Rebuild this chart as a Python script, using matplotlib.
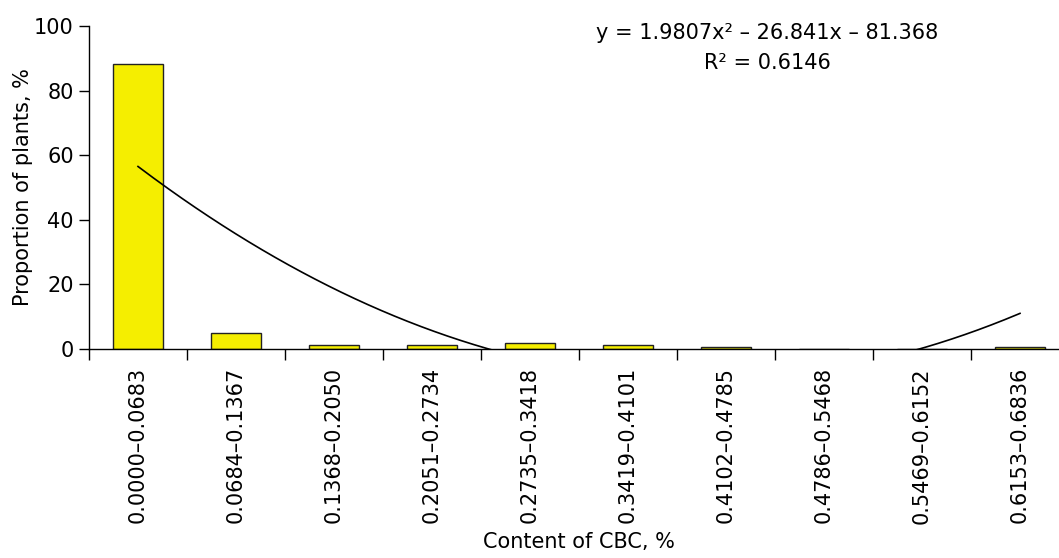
import numpy as np
import matplotlib
matplotlib.use("Agg")
import matplotlib.pyplot as plt

categories = ["0.0000–0.0683", "0.0684–0.1367", "0.1368–0.2050", "0.2051–0.2734",
              "0.2735–0.3418", "0.3419–0.4101", "0.4102–0.4785", "0.4786–0.5468",
              "0.5469–0.6152", "0.6153–0.6836"]
values = [88.2, 5.0, 1.1, 1.1, 1.8, 1.1, 0.5, 0.0, 0.0, 0.5]
trend_coef = [1.9807, -26.841, 81.368]   # y = a x^2 + b x + c, x = 1..10
yticks = [0, 20, 40, 60, 80, 100]

plt.rcParams['font.family'] = ['DejaVu Sans']

W, H = 1059, 558
fig = plt.figure(figsize=(W / 100, H / 100), dpi=100)
ax = fig.add_axes([89 / W, (H - 349) / H, 980 / W, 323 / H])

idx = np.arange(len(categories))
ax.bar(idx, values, width=0.51, color='#f5ee00', edgecolor='#222222', linewidth=1.0, zorder=2)

xs = np.linspace(1, len(categories), 400)
ys = np.polyval(trend_coef, xs)
ax.plot(xs - 1, ys, color='black', linewidth=1.2, zorder=3)

ax.set_xlim(-0.5, len(categories) - 0.5)
ax.set_ylim(0, 100)
ax.set_yticks(yticks)
ax.tick_params(axis='y', direction='out', length=7, width=1, pad=4, labelsize=15)

ax.set_xticks(np.arange(-0.5, len(categories), 1.0))
ax.set_xticklabels([])
ax.tick_params(axis='x', which='major', direction='out', length=8, width=1)
ax.set_xticks(idx, minor=True)
ax.set_xticklabels(categories, minor=True, rotation=90, fontsize=15)
ax.tick_params(axis='x', which='minor', length=0, pad=13)

for s in ['top', 'right']:
    ax.spines[s].set_visible(False)
for s in ['left', 'bottom']:
    ax.spines[s].set_linewidth(1.0)

ax.set_ylabel("Proportion of plants, %", fontsize=15)
ax.yaxis.set_label_coords(-(89 - 33) / 980, 0.5)
ax.set_xlabel("Content of CBC, %", fontsize=15, labelpad=6)

fig.text(767 / W, 1 - 33 / H, "y = 1.9807x² – 26.841x – 81.368", ha='center', va='center', fontsize=15)
fig.text(767 / W, 1 - 63 / H, "R² = 0.6146", ha='center', va='center', fontsize=15)

fig.savefig("out.png", dpi=100)
